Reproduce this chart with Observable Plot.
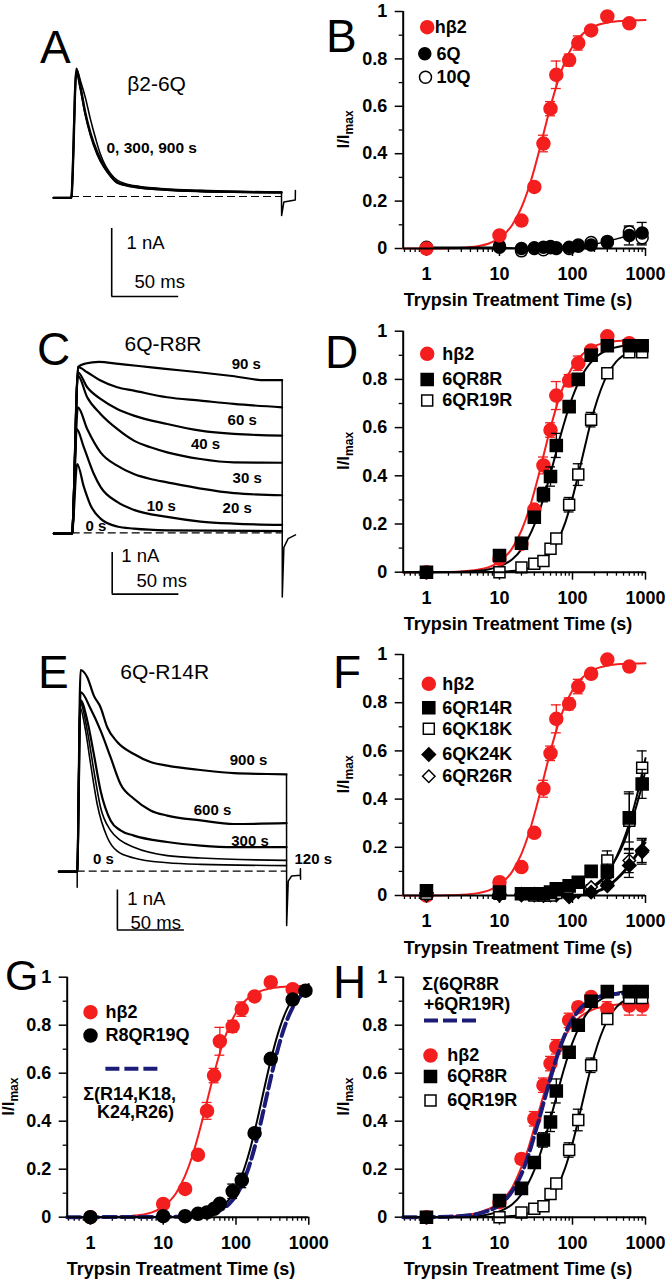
<!DOCTYPE html>
<html><head><meta charset="utf-8">
<script src="https://cdn.jsdelivr.net/npm/d3@7"></script>
<script src="https://cdn.jsdelivr.net/npm/@observablehq/plot@0.6"></script>
<style>
html,body{margin:0;padding:0;background:#fff;}
#fig{position:relative;width:665px;height:1280px;overflow:hidden;background:#fff;}
#fig svg{position:absolute;}
</style></head><body><div id="fig"></div>
<script>
// ---------------- DATA ----------------
// Trypsin treatment times (s)
const times = [1,10,20,30,40,50,60,90,120,180,300,600,900];
// Normalized currents (I/Imax) and SEM
const hb2      = [0,0.055,0.118,0.26,0.443,0.59,0.733,0.795,0.867,0.92,0.979,0.95,null];
const hb2Err   = [0,0.008,0.01,0.015,0.035,0.03,0.058,0.025,0.03,0.01,0.01,0.01,null];
const q6       = [0.005,0.005,0,0.003,0.005,0.008,0.003,0.005,0.01,0.015,0.03,0.055,0.065];
const q6Err    = [0,0,0,0,0,0,0,0,0.005,0.005,0.01,0.04,0.045];
const q10      = [0,0.01,-0.01,0,-0.005,0.003,0,0,0.015,0.025,0.025,0.07,0.045];
const q10Err   = [0,0,0,0,0,0,0,0,0,0.01,0.01,0.02,0.03];
const r8       = [0,0.069,0.12,0.228,0.322,0.397,0.526,0.687,0.80,0.90,0.94,0.94,0.94];
const r8Err    = [0,0.005,0.01,0.02,0.03,0.04,0.05,0.02,0.02,0.01,0.01,0.01,0.01];
const r19      = [0,0,0.02,0.035,0.046,0.097,0.14,0.28,0.405,0.633,0.826,0.913,0.913];
const r19Err   = [0,0,0.005,0.01,0.01,0.02,0.02,0.03,0.045,0.03,0.02,0.01,0.01];
const r14      = [0.02,0.014,0.007,0.007,0.007,0.014,0.028,0.04,0.055,0.10,0.10,0.322,0.463];
const r14Err   = [0,0,0,0,0,0,0,0.01,0.02,0.02,0.03,0.1,0.06];
const k18      = [0.007,0.007,0.007,0,0,0,0.01,0.03,0.027,0.10,0.145,0.31,0.53];
const k18Err   = [0,0,0,0,0,0,0,0.01,0.01,0.02,0.04,0.12,0.07];
const k24      = [0.01,0.005,0.005,0.005,0,0.005,0.005,0,0.02,0.014,0.04,0.125,0.187];
const k24Err   = [0,0,0,0,0,0,0,0,0.01,0.01,0.01,0.05,0.05];
const r26      = [0,0,0,0,0,0,0,-0.007,0.014,0.035,0.048,0.145,0.18];
const r26Err   = [0,0,0,0,0,0,0,0,0.01,0.01,0.01,0.05,0.05];
const r8q19q   = [0,0.004,0.004,0.014,0.02,0.035,0.056,0.108,0.153,0.35,0.66,0.907,0.944];
const r8q19qErr= [0,0,0,0,0.005,0.01,0.01,0.03,0.03,0.01,0.01,0.01,0.01];
const hb2H     = [0,0.0625,0.243,0.41,0.55,0.64,0.71,0.82,0.875,0.917,0.868,0.882,0.882];
const hb2HErr  = [0,0.01,0.02,0.03,0.03,0.03,0.03,0.03,0.02,0.02,0.03,0.04,0.04];

// Fitted curves [time, I/Imax]
const fitHb2 = [[0.48,0],[1,0.0003],[2,0.0013],[3,0.0032],[5,0.0098],[7,0.02],[10,0.044],[15,0.1],[20,0.173],[25,0.253],[30,0.335],[35,0.412],[40,0.483],[50,0.599],[60,0.684],[70,0.747],[80,0.792],[100,0.852],[120,0.886],[150,0.915],[200,0.938],[300,0.954],[500,0.961],[1000,0.964]];
const fitR8 = [[0.48,0],[1,0.0002],[2,0.0008],[3,0.002],[5,0.0057],[7,0.0114],[10,0.024],[15,0.054],[20,0.095],[30,0.196],[40,0.306],[50,0.41],[60,0.5],[70,0.576],[80,0.637],[100,0.727],[120,0.785],[150,0.84],[200,0.887],[300,0.922],[500,0.94],[1000,0.948]];
const fitR19 = [[0.48,0],[5,0.0002],[10,0.002],[20,0.0095],[30,0.025],[40,0.048],[60,0.118],[80,0.208],[100,0.308],[120,0.404],[150,0.529],[180,0.627],[200,0.677],[300,0.82],[400,0.875],[600,0.914],[1000,0.932]];
const fitR14 = [[60,0],[100,0.006],[150,0.02],[200,0.042],[300,0.095],[400,0.155],[500,0.215],[600,0.28],[700,0.34],[800,0.40],[900,0.46],[1000,0.52]];
const fitK18 = [[60,0],[100,0.004],[150,0.016],[200,0.036],[300,0.09],[400,0.16],[500,0.23],[600,0.30],[700,0.37],[800,0.44],[900,0.51],[1000,0.57]];
const fitK24 = [[80,0],[150,0.004],[200,0.012],[300,0.035],[400,0.065],[500,0.095],[600,0.125],[700,0.152],[800,0.178],[900,0.2],[1000,0.22]];
const fitR26 = [[80,0],[150,0.005],[200,0.014],[300,0.04],[400,0.07],[500,0.1],[600,0.13],[700,0.158],[800,0.185],[900,0.21],[1000,0.235]];
const fitR8Q19Q = [[0.48,0],[10,0.0005],[20,0.003],[30,0.0075],[40,0.015],[50,0.025],[60,0.038],[80,0.0735],[100,0.119],[120,0.173],[150,0.264],[200,0.417],[250,0.55],[300,0.654],[400,0.79],[500,0.866],[600,0.909],[800,0.952],[1000,0.971]];
const fitSumG = [[0.48,0],[20,0.002],[40,0.011],[60,0.028],[80,0.055],[100,0.091],[120,0.134],[150,0.209],[200,0.344],[250,0.472],[300,0.579],[400,0.73],[500,0.82],[600,0.873],[800,0.927],[1000,0.955]];
const fitHb2H = [[0.48,0],[1,0.0005],[2,0.003],[3,0.007],[5,0.018],[7,0.033],[10,0.06],[15,0.125],[20,0.21],[25,0.29],[30,0.374],[35,0.445],[40,0.507],[50,0.6],[60,0.673],[70,0.72],[90,0.782],[120,0.828],[180,0.862],[300,0.88],[500,0.887],[1000,0.89]];
const fitSumH = [[0.48,0],[1,0.0005],[2,0.002],[3,0.005],[5,0.014],[7,0.027],[10,0.05],[15,0.11],[20,0.18],[25,0.26],[30,0.34],[35,0.41],[40,0.475],[50,0.58],[60,0.66],[70,0.72],[90,0.8],[120,0.86],[180,0.905],[300,0.926],[500,0.932],[1000,0.935]];

// Current traces [ms, nA]
const traceA_0   = [[-13.4,-0.02],[-0.3,-0.02],[0,0],[3.7,1.88],[6.7,1.61],[10.4,1.22],[14.2,0.93],[19.2,0.65],[23.9,0.46],[29.1,0.31],[34.1,0.21],[46.3,0.15],[71.4,0.10],[96.2,0.08],[120.9,0.07],[156.7,0.06]];
const traceA_300 = [[-13.4,-0.02],[-0.3,-0.02],[0,0],[3.9,1.86],[6.7,1.7],[10.4,1.45],[14.2,1.13],[17.9,0.86],[21.6,0.62],[25.4,0.45],[29.1,0.34],[34.1,0.24],[46.3,0.16],[71.4,0.11],[96.2,0.09],[120.9,0.075],[156.7,0.065]];
const traceA_900 = [[-13.4,-0.02],[-0.3,-0.02],[0,0],[3.5,1.83],[6.7,1.58],[10.4,1.2],[14.2,0.9],[19.2,0.62],[23.9,0.44],[29.1,0.3],[34.1,0.2],[46.3,0.14],[71.4,0.095],[96.2,0.075],[120.9,0.065],[156.7,0.055]];
const tailA = [[156.7,0.07],[156.8,-0.28],[158.5,-0.08],[167,-0.05],[167.1,0.09]];

const traceC_90 = [[-13.75,-0.02],[-0.3,-0.02],[0,0],[4.5,3.98],[10,4.06],[20,4.1],[35,4.05],[50,4.0],[70,3.93],[95,3.85],[120,3.76],[145,3.66],[157.5,3.66]];
const traceC_60 = [[-13.75,-0.02],[-0.3,-0.02],[0,0],[4.5,3.97],[11.25,3.85],[21.25,3.65],[33.75,3.49],[46.25,3.41],[71.25,3.25],[96.25,3.17],[121.25,3.09],[157.5,3.01]];
const traceC_40 = [[-13.75,-0.02],[-0.3,-0.02],[0,0],[4.25,3.85],[11.25,3.49],[21.25,3.21],[33.75,2.97],[46.25,2.81],[71.25,2.61],[96.25,2.45],[121.25,2.37],[157.5,2.33]];
const traceC_30 = [[-13.75,-0.02],[-0.3,-0.02],[0,0],[4.25,3.77],[11.25,3.25],[21.25,2.85],[33.75,2.49],[46.25,2.21],[58.75,2.05],[71.25,1.93],[96.25,1.77],[121.25,1.69],[157.5,1.68]];
const traceC_20 = [[-13.75,-0.02],[-0.3,-0.02],[0,0],[4.25,3.01],[11.25,2.49],[21.25,1.93],[33.75,1.61],[46.25,1.41],[58.75,1.29],[71.25,1.21],[96.25,1.06],[121.25,0.95],[157.5,0.9]];
const traceC_10 = [[-13.75,-0.02],[-0.3,-0.02],[0,0],[3.25,2.49],[8.75,2.05],[16.25,1.41],[21.25,1.10],[33.75,0.74],[46.25,0.55],[71.25,0.38],[96.25,0.27],[121.25,0.22],[157.5,0.19]];
const traceC_0  = [[-13.75,-0.02],[-0.3,-0.02],[0,0],[3.75,1.65],[8.75,1.10],[13.75,0.66],[21.25,0.34],[33.75,0.15],[46.25,0.10],[71.25,0.06],[157.5,0.04]];
const tailC = [[157.5,3.66],[157.6,-1.54],[158.8,-0.35],[162,-0.14],[167.5,-0.05]];

const traceE_900 = [[-13.7,-0.01],[-0.3,-0.01],[0,0],[2.5,5.03],[7.5,4.85],[12.4,4.39],[17.4,4.1],[22.4,3.6],[29.9,3.23],[42.3,2.93],[54.7,2.73],[67.2,2.64],[92.1,2.53],[117,2.45],[141.8,2.43],[156.2,2.42]];
const traceE_600 = [[-13.7,-0.01],[-0.3,-0.01],[0,0],[2.5,4.48],[10,4.06],[17.4,3.52],[24.9,2.85],[32.3,2.18],[42.3,1.81],[54.7,1.52],[67.2,1.39],[92.1,1.27],[117,1.18],[156.2,1.2]];
const traceE_300 = [[-13.7,-0.01],[-0.3,-0.01],[0,0],[2.5,4.27],[7.5,3.77],[12.4,2.93],[17.4,2.02],[24.9,1.27],[32.3,1.02],[42.3,0.89],[67.2,0.73],[92.1,0.64],[117,0.6],[156.2,0.6]];
const traceE_120 = [[-13.7,-0.01],[-0.3,-0.01],[0,0],[2,4.23],[7.5,3.52],[12.4,2.52],[17.4,1.6],[24.9,1.02],[32.3,0.77],[42.3,0.6],[67.2,0.39],[92.1,0.33],[156.2,0.27]];
const traceE_0   = [[-13.7,-0.01],[-0.3,-0.01],[0,0],[2,4.1],[6.2,3.52],[10,2.68],[14.9,1.68],[22.4,0.85],[29.9,0.5],[42.3,0.33],[67.2,0.21],[92.1,0.17],[156.2,0.14]];
const onsetE = [[0,0],[0,-0.4]];
const tailE = [[156.2,2.42],[156.3,-1.36],[157.5,-0.25],[160,-0.12],[166.5,-0.1],[166.6,0.06],[166.7,-0.2]];

const pulseEnd = {A: 156.7, C: 157.5, E: 156.2};
const scaleBar = {t: 30, I: -1.47, ms: 50, nA: 1};

// ticks
const X_DOMAIN = [0.48, 1000];
const xMajor = [1, 10, 100, 1000];
const xMinor = [0.5,0.6,0.7,0.8,0.9,2,3,4,5,6,7,8,9,20,30,40,50,60,70,80,90,200,300,400,500,600,700,800,900];
const yMajor = [0, 0.2, 0.4, 0.6, 0.8, 1];
const yMinor = [0.1, 0.3, 0.5, 0.7, 0.9];

// ---------------- STYLE ----------------
const RED = "#f41e1e", NAVY = "#1c1c78";
const FONT = "'Liberation Sans', Arial, Helvetica, sans-serif";
const fig = document.getElementById("fig");

const series = (vals, errs) => times.map((t, i) => ({t, v: vals[i], e: errs ? errs[i] : 0})).filter(d => d.v != null);
const fit = arr => arr.map(([t, v]) => ({t, v}));
const pts = arr => arr.map(([t, I]) => ({t, I}));
const CAP = 1.17;

function place(svg, left, top) {
  svg.style.position = "absolute";
  svg.style.left = left + "px";
  svg.style.top = top + "px";
  svg.style.maxWidth = "none";
  fig.appendChild(svg);
}

const fitLine = (arr, stroke, extra = {}) => Plot.line(fit(arr), {x: "t", y: "v", stroke, strokeWidth: 2, curve: "monotone-x", ...extra});
function errBars(data, color) {
  const d = data.filter(p => p.e > 0);
  return [
    Plot.ruleX(d, {x: "t", y1: p => p.v - p.e, y2: p => p.v + p.e, stroke: color, strokeWidth: 1.3}),
    Plot.ruleY(d, {y: p => p.v + p.e, x1: p => p.t / CAP, x2: p => p.t * CAP, stroke: color, strokeWidth: 1.3}),
    Plot.ruleY(d, {y: p => p.v - p.e, x1: p => p.t / CAP, x2: p => p.t * CAP, stroke: color, strokeWidth: 1.3})
  ];
}
const dots = (data, symbol, fill, stroke, r) => Plot.dot(data, {x: "t", y: "v", symbol, fill, stroke, strokeWidth: 1.5, r});
const legDot = (dx, dy, symbol, fill, stroke, r) => Plot.dot([0], {frameAnchor: "top-left", dx, dy, symbol, fill, stroke, strokeWidth: 1.5, r});
const legText = (label, dx, dy, anchor = "start") => Plot.text([label], {frameAnchor: "top-left", dx, dy, text: d => d, textAnchor: anchor, lineAnchor: "middle", fontSize: 18, fontWeight: "bold"});
const dashSym = half => ({draw(ctx) { ctx.moveTo(-half, 0); ctx.lineTo(half, 0); }});
const legDash = (dx, dy, half) => Plot.dot([0], {frameAnchor: "top-left", dx, dy, symbol: dashSym(half), r: 5, fill: "none", stroke: NAVY, strokeWidth: 4, strokeDasharray: "14,5"});

function logPanel(cfg, marks) {
  const svg = Plot.plot({
    width: cfg.width, height: cfg.height,
    marginLeft: cfg.x0 - cfg.left, marginRight: cfg.left + cfg.width - cfg.x1,
    marginTop: cfg.yTop - cfg.top, marginBottom: cfg.top + cfg.height - cfg.yBottom,
    x: {type: "log", domain: X_DOMAIN},
    y: {domain: [0, 1]},
    style: {background: "transparent", overflow: "visible", fontFamily: FONT, fontSize: "18px", fontWeight: "bold", color: "black"},
    marks: [
      Plot.axisX(xMinor, {tickSize: 4, tickFormat: () => "", strokeWidth: 1.3, label: null}),
      Plot.axisX(xMajor, {tickSize: 8, tickPadding: 11, tickFormat: d => String(d), strokeWidth: 1.5, fontSize: 18, fontWeight: "bold", label: null}),
      Plot.axisY(yMinor, {tickSize: 4, tickFormat: () => "", strokeWidth: 1.3, label: null}),
      Plot.axisY(yMajor, {tickSize: 8, tickPadding: 8, tickFormat: d => String(d), strokeWidth: 1.5, fontSize: 18, fontWeight: "bold", label: null}),
      ...marks,
      Plot.ruleY([0], {strokeWidth: 2}),
      Plot.ruleX([X_DOMAIN[0]], {strokeWidth: 2})
    ]
  });
  place(svg, cfg.left, cfg.top);
}

function tracePanel(cfg, marks) {
  const xd = [(cfg.left - cfg.X0) / cfg.kx, (cfg.left + cfg.width - cfg.X0) / cfg.kx];
  const yd = [(cfg.Y0 - (cfg.top + cfg.height)) / cfg.ky, (cfg.Y0 - cfg.top) / cfg.ky];
  const svg = Plot.plot({
    width: cfg.width, height: cfg.height, margin: 0,
    x: {domain: xd, axis: null}, y: {domain: yd, axis: null},
    style: {background: "transparent", overflow: "visible", fontFamily: FONT, fontSize: "16px", color: "black"},
    marks
  });
  place(svg, cfg.left, cfg.top);
}

const traceLine = (arr, w = 2) => Plot.line(pts(arr), {x: "t", y: "I", curve: "monotone-x", stroke: "black", strokeWidth: w});
const tailLine = arr => Plot.line(pts(arr), {x: "t", y: "I", stroke: "black", strokeWidth: 1.5});
const baseline = end => Plot.ruleY([0], {x1: 0, x2: end, stroke: "black", strokeWidth: 1.2, strokeDasharray: "8,4"});
const bars = () => [
  Plot.ruleX([scaleBar], {x: "t", y1: "I", y2: d => d.I + d.nA, stroke: "black", strokeWidth: 1.6}),
  Plot.ruleY([scaleBar], {y: "I", x1: "t", x2: d => d.t + d.ms, stroke: "black", strokeWidth: 1.6})
];
const lab = (s, dx, dy, size, weight, anchor = "middle") => Plot.text([s], {frameAnchor: "top-left", dx, dy, text: d => d, textAnchor: anchor, lineAnchor: "bottom", fontSize: size, fontWeight: weight});

// ---------------- TRACE PANELS ----------------
tracePanel({left: 0, top: 0, width: 330, height: 320, X0: 71, Y0: 196, kx: 1.34, ky: 68}, [
  baseline(pulseEnd.A),
  traceLine(traceA_300, 1.6), traceLine(traceA_900, 2), traceLine(traceA_0, 2.4),
  tailLine(tailA),
  ...bars(),
  lab("β2-6Q", 156, 90, 21, "normal"),
  lab("0, 300, 900 s", 106, 152, 15.5, "bold", "start"),
  lab("1 nA", 126, 248, 18.5, "normal", "start"),
  lab("50 ms", 134, 287, 18.5, "normal", "start")
]);

tracePanel({left: 0, top: 320, width: 330, height: 320, X0: 71.7, Y0: 532.3, kx: 1.333, ky: 41.7}, [
  baseline(pulseEnd.C),
  ...[traceC_90, traceC_60, traceC_40, traceC_30, traceC_20, traceC_10, traceC_0].map(tr => traceLine(tr, 2.2)),
  tailLine(tailC),
  ...bars(),
  lab("6Q-R8R", 162.5, 30, 21, "normal"),
  lab("90 s", 245.8, 48.3, 15, "bold"),
  lab("60 s", 241.7, 104, 15, "bold"),
  lab("40 s", 205, 128, 15, "bold"),
  lab("30 s", 246.7, 162.7, 15, "bold"),
  lab("20 s", 236.7, 192.7, 15, "bold"),
  lab("10 s", 160.8, 190, 15, "bold"),
  lab("0 s", 95.5, 210, 15, "bold"),
  lab("1 nA", 120.7, 241.7, 18.5, "normal", "start"),
  lab("50 ms", 136, 266.7, 18.5, "normal", "start")
]);

tracePanel({left: 0, top: 640, width: 330, height: 320, X0: 76.7, Y0: 870.7, kx: 1.34, ky: 40}, [
  baseline(pulseEnd.E),
  ...[traceE_900, traceE_600, traceE_300].map(tr => traceLine(tr, 2.2)),
  ...[traceE_120, traceE_0].map(tr => traceLine(tr, 1.6)),
  tailLine(onsetE), tailLine(tailE),
  ...bars(),
  lab("6Q-R14R", 164.2, 38, 21, "normal"),
  lab("900 s", 248, 124, 15, "bold"),
  lab("600 s", 212, 174, 15, "bold"),
  lab("300 s", 249.5, 205, 15, "bold"),
  lab("120 s", 294, 223.3, 15, "bold", "start"),
  lab("0 s", 103, 223.3, 15, "bold"),
  lab("1 nA", 126.7, 264, 18.5, "normal", "start"),
  lab("50 ms", 130, 288.3, 18.5, "normal", "start")
]);

// ---------------- DOSE/TIME PANELS ----------------
const hb2D = series(hb2, hb2Err), q6D = series(q6, q6Err), q10D = series(q10, q10Err);
const r8D = series(r8, r8Err), r19D = series(r19, r19Err);
const r14D = series(r14, r14Err), k18D = series(k18, k18Err), k24D = series(k24, k24Err), r26D = series(r26, r26Err);
const r8q19qD = series(r8q19q, r8q19qErr), hb2HD = series(hb2H, hb2HErr);

// B
logPanel({left: 330, top: 0, width: 335, height: 320, x0: 402.7, x1: 645, yTop: 11, yBottom: 248}, [
  fitLine(fitHb2, RED),
  Plot.line(q6D, {x: "t", y: "v", stroke: "black", strokeWidth: 1.5}),
  ...errBars(q10D, "black"), ...errBars(q6D, "black"),
  dots(q10D, "circle", "white", "black", 6),
  dots(q6D, "circle", "black", "black", 6),
  ...errBars(hb2D, RED),
  dots(hb2D, "circle", RED, RED, 6.5),
  legDot(24, 15.7, "circle", RED, RED, 6.5), legText("hβ2", 31.5, 16),
  legDot(21.6, 42.3, "circle", "black", "black", 6), legText("6Q", 33.3, 43),
  legDot(22.3, 65.7, "circle", "white", "black", 6), legText("10Q", 33.3, 66)
]);

// D
logPanel({left: 330, top: 320, width: 335, height: 320, x0: 402.7, x1: 645, yTop: 330.7, yBottom: 571.7}, [
  fitLine(fitHb2, RED), fitLine(fitR8, "black"), fitLine(fitR19, "black"),
  ...errBars(hb2D, RED), dots(hb2D, "circle", RED, RED, 6.5),
  ...errBars(r19D, "black"), dots(r19D, "square", "white", "black", 6.2),
  ...errBars(r8D, "black"), dots(r8D, "square", "black", "black", 6.8),
  legDot(24, 22.6, "circle", RED, RED, 6.5), legText("hβ2", 39, 23),
  legDot(24, 48.3, "square", "black", "black", 6.8), legText("6QR8R", 39, 48.5),
  legDot(24, 69.3, "square", "white", "black", 6.2), legText("6QR19R", 39, 69.5)
]);

// F
logPanel({left: 330, top: 640, width: 335, height: 320, x0: 402.7, x1: 645, yTop: 654, yBottom: 895}, [
  fitLine(fitHb2, RED),
  fitLine(fitR14, "black"), fitLine(fitK18, "black"), fitLine(fitK24, "black"), fitLine(fitR26, "black"),
  ...errBars(hb2D, RED), dots(hb2D, "circle", RED, RED, 6.5),
  ...errBars(r26D, "black"), dots(r26D, "diamond2", "white", "black", 5.6),
  ...errBars(k24D, "black"), dots(k24D, "diamond2", "black", "black", 6),
  ...errBars(k18D, "black"), dots(k18D, "square", "white", "black", 6.2),
  ...errBars(r14D, "black"), dots(r14D, "square", "black", "black", 6.8),
  legDot(25.6, 29.3, "circle", RED, RED, 6.5), legText("hβ2", 39, 29.5),
  legDot(25.6, 53.3, "square", "black", "black", 6.8), legText("6QR14R", 39, 53.5),
  legDot(25.6, 74.3, "square", "white", "black", 6.2), legText("6QK18K", 39, 74.5),
  legDot(25.6, 100, "diamond2", "black", "black", 6), legText("6QK24K", 39, 100),
  legDot(25.6, 121.7, "diamond2", "white", "black", 5.6), legText("6QR26R", 39, 122)
]);

// G
logPanel({left: 0, top: 960, width: 330, height: 320, x0: 66.7, x1: 308.3, yTop: 976.7, yBottom: 1216.7}, [
  fitLine(fitHb2, RED), fitLine(fitR8Q19Q, "black"),
  fitLine(fitSumG, NAVY, {strokeWidth: 4, strokeDasharray: "13,5"}),
  ...errBars(hb2D, RED), dots(hb2D, "circle", RED, RED, 6.5),
  ...errBars(r8q19qD, "black"), dots(r8q19qD, "circle", "black", "black", 6.5),
  legDot(23.3, 35, "circle", RED, RED, 6.5), legText("hβ2", 38.3, 35),
  legDot(23.3, 58.3, "circle", "black", "black", 6.5), legText("R8QR19Q", 38.3, 58.3),
  legDash(64.2, 91.6, 26),
  legText("Σ(R14,K18,", 62.5, 116.6, "middle"),
  legText("K24,R26)", 68.3, 135, "middle")
]);

// H
logPanel({left: 330, top: 960, width: 335, height: 320, x0: 402.7, x1: 645, yTop: 976.7, yBottom: 1216.7}, [
  fitLine(fitHb2H, RED), fitLine(fitR8, "black"), fitLine(fitR19, "black"),
  ...errBars(hb2HD, RED), dots(hb2HD, "circle", RED, RED, 6.5),
  fitLine(fitSumH, NAVY, {strokeWidth: 4, strokeDasharray: "13,5"}),
  ...errBars(r19D, "black"), dots(r19D, "square", "white", "black", 6.2),
  ...errBars(r8D, "black"), dots(r8D, "square", "black", "black", 6.8),
  legText("Σ(6QR8R", 19, 6.6), legText("+6QR19R)", 20.6, 26.6),
  legDash(47.3, 43.3, 26.5),
  legDot(27.3, 78.3, "circle", RED, RED, 6.5), legText("hβ2", 44, 78.5),
  legDot(27.3, 99.3, "square", "black", "black", 6.8), legText("6QR8R", 44, 99.5),
  legDot(27.3, 123.3, "square", "white", "black", 6.2), legText("6QR19R", 44, 123.5)
]);

// ---------------- OVERLAY TEXT ----------------
const ov = d3.create("svg").attr("width", 665).attr("height", 1280)
  .style("position", "absolute").style("left", "0px").style("top", "0px")
  .style("pointer-events", "none").style("font-family", FONT);
const letters = [["A",40,63,46],["B",326,52,46],["C",37,365,46],["D",325,368,46],["E",38,688,46],["F",333,688,46],["G",5,990,43],["H",333,998,46]];
ov.selectAll("text.letter").data(letters).join("text").attr("class", "letter")
  .attr("x", d => d[1]).attr("y", d => d[2]).attr("font-size", d => d[3]).text(d => d[0]);
const titles = [[518,306],[518,630],[518,954],[181,1275],[518,1275]];
ov.selectAll("text.xt").data(titles).join("text").attr("class", "xt")
  .attr("x", d => d[0]).attr("y", d => d[1]).attr("text-anchor", "middle")
  .attr("font-size", 18).attr("font-weight", "bold").text("Trypsin Treatment Time (s)");
const ylabs = [[349,129.5],[349,451],[349,774.5],[14,1096.7],[349,1096.7]];
const yl = ov.selectAll("text.yl").data(ylabs).join("text").attr("class", "yl")
  .attr("transform", d => `translate(${d[0]},${d[1]}) rotate(-90)`)
  .attr("text-anchor", "middle").attr("font-size", 17).attr("font-weight", "bold");
yl.append("tspan").text("I/I");
yl.append("tspan").attr("font-size", 12).attr("dy", 4).text("max");
fig.appendChild(ov.node());
</script>
</body></html>
